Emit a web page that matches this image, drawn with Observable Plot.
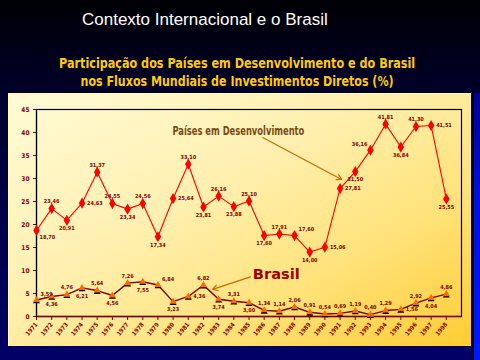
<!DOCTYPE html>
<html>
<head>
<meta charset="utf-8">
<script src="https://cdn.jsdelivr.net/npm/d3@7"></script>
<script src="https://cdn.jsdelivr.net/npm/@observablehq/plot@0.6"></script>
<style>
  html, body { margin: 0; padding: 0; }
  body { width: 480px; height: 360px; overflow: hidden; position: relative;
         background: linear-gradient(to bottom, #000005 0%, #000030 30%, #000068 100%); }
  #title { position: absolute; left: 82px; top: 11px; color: #ffffff;
           font: 17px/17px "Liberation Sans", Arial, sans-serif; white-space: nowrap; }
  #sub { position: absolute; left: 0; width: 474px; top: 54px; text-align: center; color: #ffcc00;
         font: bold 14px/18px "DejaVu Sans Condensed", "Liberation Sans", sans-serif; white-space: nowrap; }
  #sub span { display: inline-block; transform-origin: center center; }
  #panel { position: absolute; left: 8px; top: 93px; width: 463px; height: 253px;
           background: linear-gradient(150deg, #fffbd6 0%, #fff0b0 40%, #ffe27a 70%, #ffcc33 100%);
           border-top: 1px solid #ffffb0; border-left: 1px solid #ffffb0; box-sizing: border-box; }
  #edge { position: absolute; left: 471px; top: 93px; width: 3px; height: 267px; background: #000010; }
  #stripe { position: absolute; left: 474px; top: 93px; width: 6px; height: 267px;
            background: linear-gradient(to bottom, #000090, #0010e0 40%, #0018ff); }
  #chart { position: absolute; left: 0; top: 0; }
</style>
</head>
<body>
<div id="title">Contexto Internacional e o Brasil</div>
<div id="sub"><span id="s1">Participação dos Países em Desenvolvimento e do Brasil</span><br><span id="s2">nos Fluxos Mundiais de Investimentos Diretos (%)</span></div>
<div id="panel"></div>
<div id="edge"></div>
<div id="stripe"></div>
<div id="chart"></div>
<script>
// ---- data ----
const years = [1971, 1972, 1973, 1974, 1975, 1976, 1977, 1978, 1979, 1980,
               1981, 1982, 1983, 1984, 1985, 1986, 1987, 1988, 1989, 1990,
               1991, 1992, 1993, 1994, 1995, 1996, 1997, 1998];
const developing = [18.70, 23.46, 20.91, 24.63, 31.37, 24.55, 23.34, 24.56, 17.34, 25.64,
                    33.10, 23.81, 26.16, 23.88, 25.10, 17.60, 17.91, 17.60, 14.00, 15.06,
                    27.81, 31.50, 36.16, 41.81, 36.84, 41.30, 41.51, 25.55];
const brasil = [3.59, 4.36, 4.76, 6.21, 5.64, 4.56, 7.26, 7.55, 6.84, 3.23,
                4.36, 6.82, 3.74, 3.31, 3.00, 1.34, 1.14, 2.06, 0.91, 0.54,
                0.69, 1.19, 0.40, 1.29, 1.56, 2.92, 4.04, 4.86];
const yTicks = [0, 5, 10, 15, 20, 25, 30, 35, 40, 45];
const seriesNames = ["Países em Desenvolvimento", "Brasil"];

// ---- layout config (label placement around points) ----
const devPos = ["br","t","b","r","t","t","b","t","b","r","t","b","t","b","t","b","t","tr","b","r","r","b","tl","t","b","t","r","b"];
const brPos  = ["tr","b","t","b","t","b","t","b","tr","b","r","t","b","t","b","t","t","t","t","t","t","t","t","t","r","t","b","t"];

const devRows = years.map((y, i) => ({year: y, value: developing[i], pos: devPos[i]}));
const brRows = years.map((y, i) => ({year: y, value: brasil[i], pos: brPos[i]}));
const fmt = v => v.toFixed(2).replace(".", ",");
const narrow = "'DejaVu Sans Condensed', 'Liberation Sans', sans-serif";

const place = {
  t:  {dx: 0, dy: -7, textAnchor: "middle"},
  b:  {dx: 0, dy: 8, textAnchor: "middle"},
  r:  {dx: 5, dy: 0, textAnchor: "start"},
  l:  {dx: -5, dy: 0, textAnchor: "end"},
  tr: {dx: 4, dy: -6, textAnchor: "start"},
  tl: {dx: -3, dy: -6, textAnchor: "end"},
  br: {dx: 3, dy: 7, textAnchor: "start"}
};
function labels(rows, fill) {
  return Object.entries(place).map(([k, p]) =>
    Plot.text(rows.filter(d => d.pos === k), {
      x: "year", y: "value", text: d => fmt(d.value), fill,
      fontSize: 5.5, fontWeight: "bold", fontFamily: narrow,
      dx: p.dx, dy: p.dy, textAnchor: p.textAnchor
    }));
}

// annotation anchors in data coordinates
const devNote = {year: 1984.3, value: 40.4, from: [1985.9, 38.9], to: [1991.1, 29.8]};
const brNote = {year: 1986.8, value: 9.1, from: [1985.1, 8.6], to: [1982.6, 5.9]};

const chart = Plot.plot({
  width: 480,
  height: 360,
  marginLeft: 36,
  marginRight: 19,
  marginTop: 109,
  marginBottom: 44,
  style: {background: "transparent", overflow: "visible"},
  x: {domain: [1971, 1999]},
  y: {domain: [0, 45]},
  marks: [
    Plot.frame({stroke: "black", strokeWidth: 1.2}),
    Plot.axisY({ticks: yTicks, tickSize: 3, tickPadding: 4, color: "#800000", stroke: "#800000",
                fontSize: 6.5, fontWeight: "bold", label: null, tickFormat: d => d, fontFamily: narrow}),
    Plot.axisX({ticks: years, tickSize: 4, tickRotate: -50, tickPadding: 3, color: "#800000", stroke: "#800000",
                fontSize: 6, fontWeight: "bold", label: null, tickFormat: d => String(d), fontFamily: narrow}),
    Plot.ruleY([0], {stroke: "#800000", strokeWidth: 1.5}),
    Plot.ruleX([1971], {stroke: "black", strokeWidth: 1.2}),
    // developing countries
    Plot.line(devRows, {x: "year", y: "value", stroke: "#ff0000", strokeWidth: 1.1}),
    Plot.dot(devRows, {x: "year", y: "value", symbol: "diamond", r: 3.4, fill: "#ff0000"}),
    Plot.dot(devRows, {x: "year", y: "value", symbol: "square", r: 2.2, fill: "#ff0000"}),
    ...labels(devRows, "#800000"),
    // brasil
    Plot.line(brRows, {x: "year", y: "value", stroke: "#800000", strokeWidth: 1.4}),
    Plot.dot(brRows, {x: "year", y: "value", symbol: "triangle", r: 2.6, fill: "black", dy: 1.3}),
    Plot.dot(brRows, {x: "year", y: "value", symbol: "triangle", r: 2.6, fill: "#ff6a00"}),
    ...labels(brRows, "#800000"),
    // annotations
    Plot.text([devNote], {x: "year", y: "value", text: () => seriesNames[0], fill: "#7a4a14",
      fontSize: 12, fontWeight: "bold", fontFamily: narrow}),
    Plot.arrow([devNote], {x1: d => d.from[0], y1: d => d.from[1], x2: d => d.to[0], y2: d => d.to[1],
      stroke: "#cc6a00", strokeWidth: 1.2, headLength: 7}),
    Plot.text([brNote], {x: "year", y: "value", text: () => seriesNames[1], fill: "#a00000",
      fontSize: 14, fontWeight: "bold", fontFamily: narrow}),
    Plot.arrow([brNote], {x1: d => d.from[0], y1: d => d.from[1], x2: d => d.to[0], y2: d => d.to[1],
      stroke: "#cc6a00", strokeWidth: 1.2, headLength: 7})
  ]
});
document.getElementById("chart").appendChild(chart);

// squeeze annotation texts to the narrow widths of the original
const targetW = {"Países em Desenvolvimento": 132, "Brasil": 47};
d3.select(chart).selectAll("text").each(function() {
  const t = this.textContent;
  if (targetW[t]) {
    this.setAttribute("textLength", targetW[t]);
    this.setAttribute("lengthAdjust", "spacingAndGlyphs");
  }
});
// squeeze subtitle lines
[["s1", 356], ["s2", 313]].forEach(([id, w]) => {
  const el = document.getElementById(id);
  const cur = el.getBoundingClientRect().width;
  el.style.transform = `scaleX(${w / cur})`;
});
</script>
</body>
</html>
